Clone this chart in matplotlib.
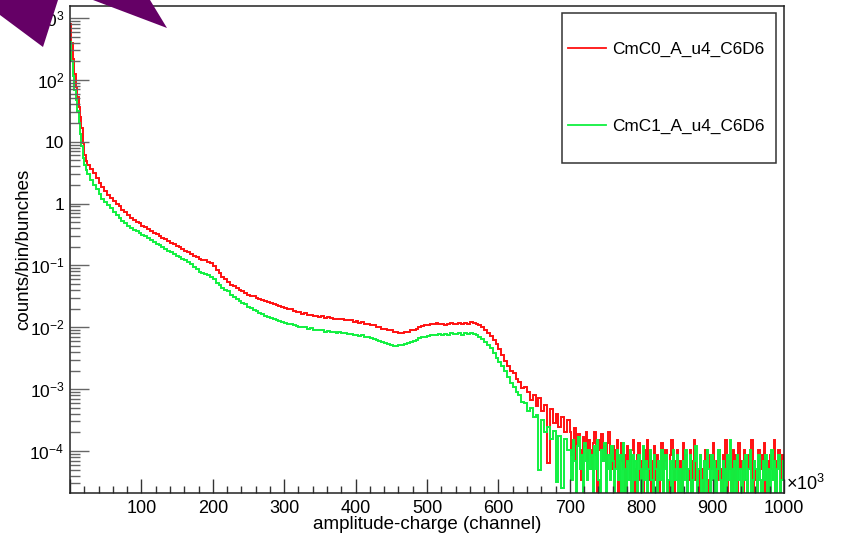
import numpy as np
import matplotlib
matplotlib.use('Agg')
import matplotlib.pyplot as plt
from matplotlib.patches import Polygon, Rectangle
from matplotlib.lines import Line2D
from matplotlib.ticker import FixedLocator, LogLocator, NullFormatter, MultipleLocator

plt.rcParams['font.family'] = ['Liberation Sans', 'DejaVu Sans']
plt.rcParams['mathtext.fontset'] = 'custom'
plt.rcParams['mathtext.rm'] = 'Liberation Sans'
plt.rcParams['mathtext.it'] = 'Liberation Sans:italic'
plt.rcParams['mathtext.bf'] = 'Liberation Sans:bold'

# ---------------- data ----------------
series_names = ['CmC0_A_u4_C6D6', 'CmC1_A_u4_C6D6']
series_colors = ['#ff1010', '#10f040']

# bin edges (x in units of 10^3 channels)
edges = np.concatenate([np.arange(0, 24, 2), np.arange(24, 700, 4), np.arange(700, 1000.1, 2)])

# log10(counts/bin/bunches), bins 0-24 (width 2)
red_head_log = [2.91, 2.60, 2.33, 2.10, 1.88, 1.72, 1.56, 1.40, 1.22, 0.98, 0.78, 0.69]
green_head_log = [2.62, 2.30, 2.06, 1.84, 1.68, 1.50, 1.30, 1.12, 0.93, 0.74, 0.62, 0.55]

# log10(counts/bin/bunches), bins 24-700 (width 4)
red_body_log = [
    0.63, 0.56, 0.49, 0.41, 0.33, 0.26, 0.20, 0.14, 0.09, 0.04,
    -0.01, -0.04, -0.10, -0.14, -0.18, -0.23, -0.26, -0.30, -0.32, -0.36,
    -0.38, -0.41, -0.44, -0.47, -0.50, -0.53, -0.55, -0.58, -0.61, -0.64,
    -0.66, -0.69, -0.71, -0.74, -0.76, -0.79, -0.81, -0.84, -0.87, -0.90,
    -0.91, -0.92, -0.94, -0.96, -1.01, -1.07, -1.13, -1.18, -1.22, -1.26,
    -1.31, -1.34, -1.37, -1.39, -1.42, -1.44, -1.47, -1.49, -1.50, -1.53,
    -1.54, -1.56, -1.57, -1.59, -1.61, -1.62, -1.64, -1.66, -1.68, -1.69,
    -1.71, -1.71, -1.74, -1.75, -1.76, -1.78, -1.77, -1.80, -1.80, -1.82,
    -1.82, -1.83, -1.82, -1.85, -1.84, -1.85, -1.86, -1.86, -1.87, -1.86,
    -1.89, -1.88, -1.89, -1.91, -1.90, -1.93, -1.92, -1.95, -1.95, -1.97,
    -1.97, -1.99, -2.00, -2.02, -2.02, -2.05, -2.05, -2.07, -2.08, -2.09,
    -2.10, -2.08, -2.07, -2.05, -2.04, -2.02, -2.00, -1.98, -1.97, -1.96,
    -1.94, -1.95, -1.93, -1.95, -1.94, -1.96, -1.94, -1.93, -1.95, -1.94,
    -1.93, -1.95, -1.93, -1.94, -1.92, -1.93, -1.94, -1.97, -2.00, -2.05,
    -2.10, -2.14, -2.20, -2.27, -2.35, -2.44, -2.54, -2.63, -2.71, -2.74,
    -2.84, -2.88, -2.98, -2.96, -3.05, -3.18, -3.10, -3.28, -3.15, -3.35,
    -3.25, -4.20, -3.32, -3.55, -3.40, -3.62, -3.45, -3.70, -3.50,
]
green_body_log = [
    0.47, 0.38, 0.30, 0.23, 0.15, 0.08, 0.03, -0.02, -0.07, -0.13,
    -0.18, -0.24, -0.28, -0.32, -0.36, -0.39, -0.43, -0.45, -0.48, -0.51,
    -0.53, -0.56, -0.59, -0.62, -0.65, -0.67, -0.70, -0.73, -0.76, -0.79,
    -0.81, -0.84, -0.86, -0.89, -0.92, -0.95, -0.98, -1.02, -1.06, -1.10,
    -1.12, -1.14, -1.16, -1.19, -1.22, -1.28, -1.32, -1.36, -1.39, -1.42,
    -1.47, -1.51, -1.54, -1.57, -1.60, -1.63, -1.67, -1.69, -1.72, -1.74,
    -1.77, -1.79, -1.81, -1.83, -1.85, -1.87, -1.89, -1.90, -1.92, -1.93,
    -1.95, -1.95, -1.97, -1.98, -1.99, -2.00, -2.00, -2.02, -2.01, -2.04,
    -2.04, -2.05, -2.05, -2.07, -2.06, -2.08, -2.08, -2.09, -2.08, -2.10,
    -2.10, -2.11, -2.11, -2.12, -2.12, -2.14, -2.13, -2.15, -2.16, -2.17,
    -2.19, -2.20, -2.22, -2.24, -2.25, -2.27, -2.29, -2.30, -2.31, -2.29,
    -2.29, -2.27, -2.26, -2.24, -2.22, -2.20, -2.18, -2.16, -2.15, -2.14,
    -2.13, -2.12, -2.13, -2.11, -2.12, -2.11, -2.12, -2.10, -2.11, -2.11,
    -2.10, -2.12, -2.10, -2.11, -2.10, -2.11, -2.13, -2.15, -2.19, -2.23,
    -2.28, -2.34, -2.41, -2.49, -2.56, -2.63, -2.71, -2.80, -2.90, -2.96,
    -3.05, -3.10, -3.20, -3.22, -3.35, -3.30, -3.45, -3.42, -4.30, -3.50,
    -3.70, -3.62, -3.80, -3.68, -4.50, -3.75, -4.60, -3.80, -3.98,
]

# tail 700-1000 (width 2): raw counts, one count = count_unit counts/bin/bunches
count_unit = 1.7e-5
red_tail_counts = [
    12, 5, 9, 14, 3, 8, 11, 6, 2, 10, 7, 12, 4, 9, 6,
    3, 8, 12, 5, 1, 9, 6, 11, 4, 7, 2, 8, 12, 5, 3,
    7, 2, 6, 9, 0, 4, 8, 3, 5, 1, 7, 4, 2, 6, 9,
    3, 1, 5, 8, 2, 4, 0, 6, 3, 9, 2, 5, 1, 4, 7,
    2, 5, 0, 3, 8, 1, 4, 6, 2, 0, 5, 9, 3, 1, 4,
    6, 2, 4, 0, 8, 3, 5, 1, 2, 6, 0, 4, 9, 2, 3,
    1, 5, 3, 0, 4, 6, 2, 1, 5, 3, 8, 0, 4, 2, 6,
    3, 0, 5, 2, 9, 1, 4, 3, 0, 6, 2, 5, 1, 8, 3,
    4, 1, 6, 2, 0, 5, 3, 9, 1, 4, 2, 0, 6, 3, 5,
    2, 8, 0, 4, 1, 5, 3, 2, 9, 0, 4, 6, 1, 5, 3,
]
green_tail_counts = [
    6, 2, 9, 4, 1, 7, 10, 3, 5, 0, 8, 4, 2, 6, 3,
    5, 1, 7, 3, 9, 2, 0, 6, 4, 8, 1, 3, 5, 2, 7,
    4, 0, 3, 6, 2, 5, 1, 8, 3, 0, 4, 2, 6, 1, 5,
    2, 4, 0, 5, 3, 1, 7, 2, 4, 0, 3, 6, 2, 1, 5,
    3, 0, 4, 2, 6, 1, 3, 5, 0, 2, 4, 1, 6, 3, 2,
    5, 1, 3, 0, 4, 2, 6, 1, 3, 5, 0, 2, 4, 7, 1,
    3, 5, 0, 2, 4, 1, 6, 3, 0, 5, 2, 4, 1, 3, 6,
    2, 0, 4, 3, 1, 5, 2, 9, 0, 3, 4, 1, 5, 2, 3,
    0, 4, 2, 5, 1, 3, 6, 0, 2, 4, 3, 1, 5, 2, 0,
    4, 2, 5, 1, 3, 0, 6, 2, 4, 1, 3, 5, 0, 2, 4,
]

y_tick_values = [1e-4, 1e-3, 1e-2, 1e-1, 1, 10, 1e2, 1e3]
y_tick_labels = [r'$10^{-4}$', r'$10^{-3}$', r'$10^{-2}$', r'$10^{-1}$', '1', '10',
                 r'$10^{2}$', r'$10^{3}$']
x_tick_values = [0, 100, 200, 300, 400, 500, 600, 700, 800, 900, 1000]
x_tick_labels = ['', '100', '200', '300', '400', '500', '600', '700', '800', '900', '1000']


def build(head, body, tail):
    v = np.concatenate([10.0 ** np.array(head), 10.0 ** np.array(body),
                        np.array(tail, dtype=float) * count_unit])
    return np.where(v > 0, v, 1e-9)


red_vals = build(red_head_log, red_body_log, red_tail_counts)
green_vals = build(green_head_log, green_body_log, green_tail_counts)

# ---------------- figure ----------------
W, H = 846, 541
fig = plt.figure(figsize=(W / 100, H / 100), dpi=100)
ax = fig.add_axes([70 / W, 1 - 493 / H, 714 / W, 487 / H])

for vals, col, name in zip([red_vals, green_vals], series_colors, series_names):
    ax.stairs(vals, edges, color=col, lw=1.4, baseline=None, label=name)

ax.set_yscale('log')
ax.set_xlim(0, 1000)
ax.set_ylim(10 ** -4.679, 10 ** 3.194)

ax.yaxis.set_major_locator(FixedLocator(y_tick_values))
ax.set_yticklabels(y_tick_labels)
ax.yaxis.set_minor_locator(LogLocator(base=10, subs=np.arange(2, 10), numticks=30))
ax.yaxis.set_minor_formatter(NullFormatter())
ax.xaxis.set_major_locator(FixedLocator(x_tick_values))
ax.set_xticklabels(x_tick_labels)
ax.xaxis.set_minor_locator(MultipleLocator(20))

ax.tick_params(axis='x', which='major', direction='in', length=10, width=1,
               color='#333333', pad=4.8, labelsize=13)
ax.tick_params(axis='x', which='minor', direction='in', length=5, width=1, color='#333333')
ax.tick_params(axis='y', which='major', direction='in', length=14, width=1,
               color='#666666', pad=4.0, labelsize=12.5)
ax.tick_params(axis='y', which='minor', direction='in', length=7, width=1, color='#666666')
for s in ax.spines.values():
    s.set_linewidth(1.1)
    s.set_color('#222222')

ax.set_xlabel('amplitude-charge (channel)', fontsize=13.5)
ax.xaxis.set_label_coords(0.5, -0.0464)
ax.set_ylabel('counts/bin/bunches', fontsize=13.5)
ax.yaxis.set_label_coords(-0.0535, 0.5)

ax.text(1.003, 0.018, r'$\times10^{3}$', transform=ax.transAxes, fontsize=13,
        ha='left', va='center')

# legend box
fig.add_artist(Rectangle((562 / W, 1 - 163 / H), 214 / W, 150 / H, transform=fig.transFigure,
                         facecolor='white', edgecolor='#333333', lw=1.1, zorder=5))
handles = [Line2D([], [], color=c, lw=1.3) for c in series_colors]
leg = fig.legend(handles, series_names, loc='upper left',
                 bbox_to_anchor=(568 / W, 1 - 42 / H), frameon=False,
                 fontsize=12.4, borderpad=0, borderaxespad=0, handlelength=2.2,
                 handletextpad=0.35, labelspacing=3.6)
leg.set_zorder(6)

# purple overlay shapes
purple = '#650066'
fig.add_artist(Polygon([(0, 1), (58 / W, 1), (43 / W, 1 - 47 / H), (0, 1 - 15 / H)],
                       closed=True, transform=fig.transFigure, facecolor=purple,
                       edgecolor='none', zorder=10))
fig.add_artist(Polygon([(93 / W, 1), (150 / W, 1), (167 / W, 1 - 28 / H)],
                       closed=True, transform=fig.transFigure, facecolor=purple,
                       edgecolor='none', zorder=10))

fig.savefig('out.png', dpi=100)
